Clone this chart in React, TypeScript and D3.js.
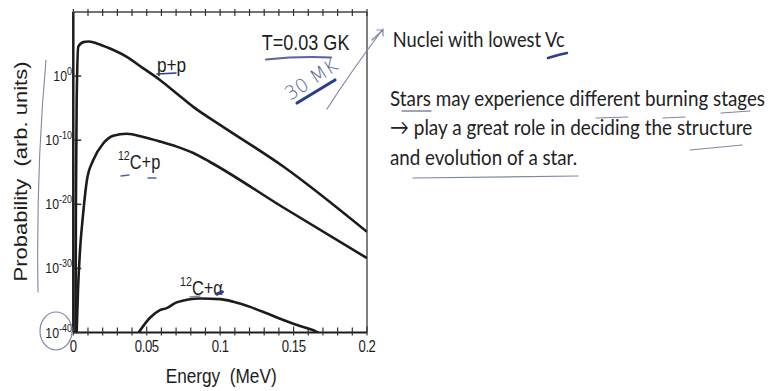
import React, { useLayoutEffect, useRef, useState } from 'react';
import * as d3 from 'd3';

// energies in MeV, probabilities as log10 (arb. units)
const ppE = [0.0015, 0.0018, 0.0023, 0.0034, 0.0068, 0.0102, 0.0159, 0.025, 0.0364, 0.0477, 0.059, 0.0704, 0.0817, 0.0999, 0.143, 0.2];
const ppLog = [-40, -19.3, -3.7, 4.6, 5.3, 5.4, 5.1, 4.3, 3.0, 1.2, -0.6, -2.7, -4.8, -7.6, -14.1, -24.3];

const cpE = [0.0023, 0.0032, 0.0046, 0.0066, 0.0093, 0.0136, 0.0204, 0.0272, 0.0364, 0.0477, 0.059, 0.0704, 0.0817, 0.0931, 0.143, 0.2];
const cpLog = [-40, -33.4, -27.1, -21.7, -16.2, -13.1, -10.5, -9.3, -9.0, -9.5, -10.2, -11.0, -12.0, -13.4, -20.5, -28.4];

const caE = [0.0445, 0.0522, 0.059, 0.0636, 0.0704, 0.0863, 0.0999, 0.109, 0.1204, 0.1317, 0.143, 0.1544, 0.1657, 0.168];
const caLog = [-40, -37.7, -36.5, -36.2, -35.3, -34.7, -34.8, -35.2, -36.0, -37.0, -38.05, -39.0, -39.9, -40.2];

const xMajor = [0, 0.05, 0.1, 0.15, 0.2];
const xLabels = ['0', '0.05', '0.1', '0.15', '0.2'];
const yExps = [0, -10, -20, -30, -40];

const headline = 'Nuclei with lowest Vc';
const bullets = [
  'Stars may experience different burning stages',
  '\u2192 play a great role in deciding the structure',
  'and evolution of a star.',
];
const bulletWidths = [375, 362, 187];

const W = 769;
const H = 391;
const SQ = 0.82; // slide is squashed horizontally
const chartFont = "'Liberation Sans', Arial, sans-serif";
const slideFont = "Lato, 'Open Sans', sans-serif";
const ink = '#1c1c1c';
const pen = '#2b3f8c';
const pencil = '#7d87a6';

// text squeezed horizontally to a given width
function FitText({ x, y, width, children }: { x: number; y: number; width: number; children: string }) {
  const ref = useRef<SVGTextElement>(null);
  const [k, setK] = useState(SQ);
  useLayoutEffect(() => {
    const measure = () => {
      const n = ref.current ? ref.current.getComputedTextLength() : 0;
      if (n > 0) setK(width / n);
    };
    measure();
    if (document.fonts) document.fonts.ready.then(measure);
  }, [width]);
  return (
    <text ref={ref} transform={`translate(${x},${y}) scale(${k},1)`}>
      {children}
    </text>
  );
}

export default function App() {
  const x = d3.scaleLinear().domain([0, 0.2]).range([73.3, 367]);
  const y = d3.scaleLog().domain([1e-40, 1e10]).range([332.5, 12]);
  const [x0, x1] = x.range();
  const [yb, yt] = y.range();

  const line = d3
    .line<[number, number]>()
    .x((d) => x(d[0]))
    .y((d) => y(Math.pow(10, d[1])))
    .curve(d3.curveMonotoneX);

  const series = [
    ppE.map((e, i) => [e, ppLog[i]] as [number, number]),
    cpE.map((e, i) => [e, cpLog[i]] as [number, number]),
    caE.map((e, i) => [e, caLog[i]] as [number, number]),
  ];

  const minor = d3.range(0, 0.2001, 0.01);

  const sq = (tx: number, ty: number, extra = '') =>
    `translate(${tx},${ty}) scale(${SQ},1)${extra}`;

  return (
    <svg
      width={W}
      height={H}
      style={{ position: 'absolute', left: 0, top: 0, background: '#fff' }}
      fontFamily={chartFont}
    >
      <defs>
        <clipPath id="plot">
          <rect x={x0} y={yt} width={x1 - x0} height={yb - yt} />
        </clipPath>
      </defs>

      {/* frame */}
      <line x1={x0} x2={x1} y1={yt} y2={yt} stroke="#444" strokeWidth={1.5} />
      <line x1={x1} x2={x1} y1={yt} y2={yb} stroke="#555" strokeWidth={1.5} />
      <line x1={x0} x2={x1} y1={yb} y2={yb} stroke={ink} strokeWidth={2} />
      <line x1={x0} x2={x0} y1={yt} y2={yb} stroke={ink} strokeWidth={2.5} />

      {/* x ticks */}
      {minor.map((v, i) => {
        const major = i % 5 === 0;
        return (
          <g key={i} stroke="#333" strokeWidth={1.2}>
            <line x1={x(v)} x2={x(v)} y1={yb - (major ? 6 : 5)} y2={yb + 3} />
            <line x1={x(v)} x2={x(v)} y1={yt - 3} y2={yt + 4} />
          </g>
        );
      })}
      {xMajor.map((v, i) => (
        <text
          key={i}
          transform={sq(x(v), 351.5)}
          fontSize={16}
          textAnchor="middle"
          fill={ink}
          letterSpacing={-0.5}
        >
          {xLabels[i]}
        </text>
      ))}

      {/* y ticks */}
      {yExps.map((p) => (
        <g key={p}>
          <line x1={x0} x2={x0 + 8} y1={y(Math.pow(10, p))} y2={y(Math.pow(10, p))} stroke="#333" strokeWidth={1.5} />
          <text transform={sq(72, y(Math.pow(10, p)) + 5)} textAnchor="end" fill={ink} fontSize={15}>
            10
            <tspan fontSize={11} dy={-6}>
              {p}
            </tspan>
          </text>
        </g>
      ))}

      {/* curves */}
      <g clipPath="url(#plot)">
        {series.map((s, i) => (
          <path key={i} d={line(s) || ''} fill="none" stroke={ink} strokeWidth={2.6} strokeLinejoin="round" />
        ))}
      </g>

      {/* curve labels */}
      <text transform={sq(x(0.057), y(Math.pow(10, 0.69)))} fontSize={21} fill={ink}>
        p+p
      </text>
      <text transform={sq(x(0.0304), y(Math.pow(10, -14.5)))} fontSize={20} fill={ink}>
        <tspan fontSize={13} dy={-9}>12</tspan>
        <tspan dy={9}>C+p</tspan>
      </text>
      <text transform={sq(x(0.0727), y(Math.pow(10, -34.15)))} fontSize={20} fill={ink}>
        <tspan fontSize={13} dy={-9}>12</tspan>
        <tspan dy={9}>C+α</tspan>
      </text>
      <text transform={sq(x(0.1283), y(Math.pow(10, 4.07)))} fontSize={22} fill={ink}>
        T=0.03 GK
      </text>

      {/* axis titles */}
      <text transform={sq((x0 + x1) / 2 + 1, 382.7)} fontSize={21} textAnchor="middle" fill={ink} style={{ whiteSpace: 'pre' }}>
        {'Energy  (MeV)'}
      </text>
      <text transform={sq(26.7, 171.5, ' rotate(-90)')} fontSize={22} textAnchor="middle" fill={ink} style={{ whiteSpace: 'pre' }}>
        {'Probability  (arb. units)'}
      </text>

      {/* slide text */}
      <g fontFamily={slideFont} fill="#222" fontSize={22}>
        <FitText x={392.7} y={47.3} width={172}>
          {headline}
        </FitText>
        {bullets.map((b, i) => (
          <FitText key={i} x={390} y={105.7 + i * 29.7} width={bulletWidths[i]}>
            {b}
          </FitText>
        ))}
      </g>

      {/* hand annotations */}
      <g fill="none" strokeLinecap="round">
        <path d="M266,59.5 Q300,56 331,57.5" stroke={pen} strokeWidth={2} opacity={0.8} />
        <path d="M297,103 L335,80" stroke={pen} strokeWidth={3.2} />
        <path d="M327,109 Q352,70 383,29" stroke={pencil} strokeWidth={1.2} />
        <path d="M372,40 L383,30 M377,30 L383,30 L383,36" stroke={pencil} strokeWidth={1.2} />
        <path d="M46,60 Q36,170 38,292" stroke={pencil} strokeWidth={1.1} />
        <ellipse cx={56} cy={331} rx={16} ry={19} stroke={pencil} strokeWidth={1.2} />
        <path d="M157,74 L176,73" stroke={pen} strokeWidth={1.5} />
        <path d="M121,176 L129,175 M148,178 L156,178" stroke={pen} strokeWidth={1.4} opacity={0.8} />
        <path d="M190,297 L200,296" stroke={pencil} strokeWidth={1.4} />
        <path d="M217,294 L222,292" stroke={pen} strokeWidth={3.5} />
        <path d="M548,58 Q557,55 567,53" stroke={pen} strokeWidth={2.5} />
        <path d="M402,111 L431,111" stroke={pencil} strokeWidth={1.4} />
        <path d="M596,118 L628,117 M663,118 L685,117 M721,113 L750,111" stroke={pencil} strokeWidth={1.2} />
        <path d="M690,150 L742,145" stroke={pencil} strokeWidth={1.2} />
        <path d="M413,178 L578,176" stroke={pencil} strokeWidth={1.2} />
      </g>
      <text
        transform="translate(290,101) rotate(-33)"
        fontSize={19}
        fontFamily="'DejaVu Sans', sans-serif"
        fontWeight={300}
        fill="#5566a8"
      >
        30 MK
      </text>
    </svg>
  );
}
